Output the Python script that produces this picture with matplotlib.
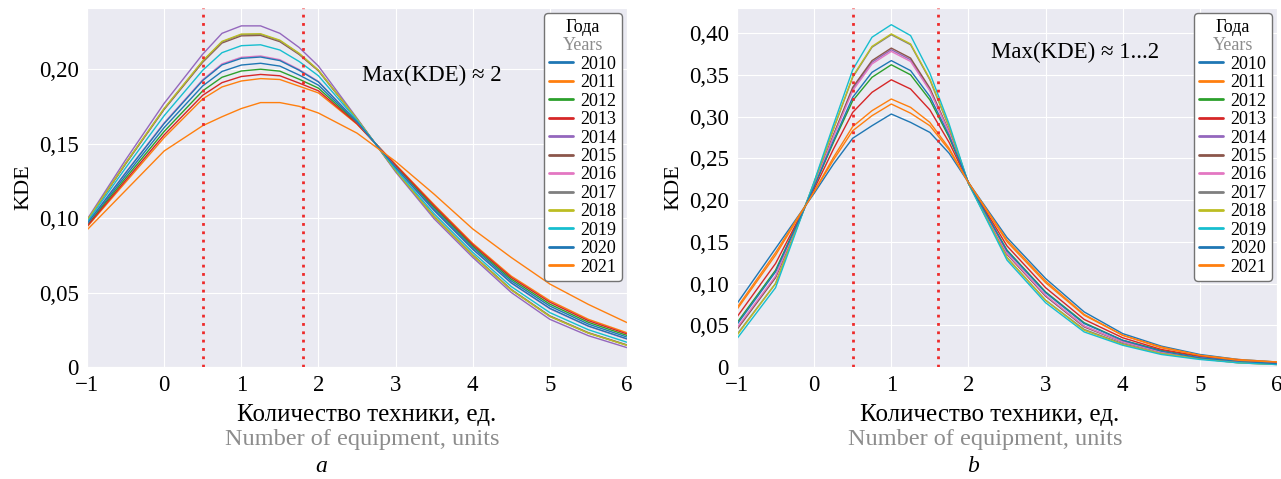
import matplotlib
matplotlib.use("Agg")
import matplotlib.pyplot as plt
from matplotlib.offsetbox import TextArea
import seaborn as sns

# x grids of the two panels
x_a = [-1, -0.5, 0, 0.5, 0.75, 1, 1.25, 1.5, 1.75, 2, 2.5, 3, 3.5, 4, 4.5, 5, 5.5, 6]
x_b = [-1, -0.5, 0, 0.25, 0.5, 0.75, 1, 1.25, 1.5, 1.75, 2, 2.5, 3, 3.5, 4, 4.5, 5, 5.5, 6]

years = ["2010", "2011", "2012", "2013", "2014", "2015",
         "2016", "2017", "2018", "2019", "2020", "2021"]

# panel a
a_2010 = [0.0955, 0.1284, 0.1607, 0.1887, 0.1984, 0.2027, 0.2039, 0.2020, 0.1960, 0.1892, 0.1642, 0.1345, 0.1062, 0.0803, 0.0578, 0.0409, 0.0288, 0.0201]
a_2011 = [0.0940, 0.1240, 0.1540, 0.1800, 0.1880, 0.1920, 0.1936, 0.1930, 0.1885, 0.1840, 0.1630, 0.1360, 0.1090, 0.0830, 0.0610, 0.0445, 0.0320, 0.0230]
a_2012 = [0.0949, 0.1267, 0.1581, 0.1854, 0.1945, 0.1987, 0.1999, 0.1986, 0.1932, 0.1872, 0.1637, 0.1351, 0.1073, 0.0813, 0.0590, 0.0422, 0.0300, 0.0212]
a_2013 = [0.0944, 0.1252, 0.1558, 0.1824, 0.1909, 0.1950, 0.1964, 0.1955, 0.1906, 0.1854, 0.1633, 0.1356, 0.1082, 0.0822, 0.0601, 0.0435, 0.0311, 0.0222]
a_2014 = [0.0990, 0.1390, 0.1770, 0.2100, 0.2240, 0.2290, 0.2290, 0.2240, 0.2145, 0.2020, 0.1670, 0.1310, 0.0995, 0.0736, 0.0500, 0.0320, 0.0210, 0.0130]
a_2015 = [0.0981, 0.1363, 0.1729, 0.2046, 0.2175, 0.2223, 0.2226, 0.2184, 0.2098, 0.1988, 0.1663, 0.1319, 0.1012, 0.0753, 0.0520, 0.0343, 0.0230, 0.0148]
a_2016 = [0.0962, 0.1305, 0.1639, 0.1929, 0.2035, 0.2079, 0.2088, 0.2063, 0.1997, 0.1917, 0.1647, 0.1339, 0.1049, 0.0790, 0.0563, 0.0391, 0.0273, 0.0187]
a_2017 = [0.0982, 0.1366, 0.1733, 0.2052, 0.2182, 0.2231, 0.2233, 0.2190, 0.2103, 0.1991, 0.1664, 0.1318, 0.1010, 0.0751, 0.0518, 0.0340, 0.0228, 0.0146]
a_2018 = [0.0983, 0.1368, 0.1736, 0.2055, 0.2186, 0.2235, 0.2237, 0.2194, 0.2106, 0.1993, 0.1664, 0.1318, 0.1009, 0.0750, 0.0517, 0.0339, 0.0227, 0.0145]
a_2019 = [0.0972, 0.1336, 0.1687, 0.1992, 0.2110, 0.2157, 0.2163, 0.2128, 0.2051, 0.1955, 0.1656, 0.1328, 0.1029, 0.0770, 0.0540, 0.0365, 0.0250, 0.0166]
a_2020 = [0.0961, 0.1302, 0.1634, 0.1923, 0.2028, 0.2072, 0.2081, 0.2057, 0.1992, 0.1914, 0.1646, 0.1340, 0.1051, 0.0791, 0.0565, 0.0394, 0.0275, 0.0189]
a_2021 = [0.0920, 0.1185, 0.1450, 0.1620, 0.1680, 0.1735, 0.1775, 0.1775, 0.1750, 0.1705, 0.1570, 0.1380, 0.1160, 0.0927, 0.0735, 0.0557, 0.0420, 0.0298]

# panel b
b_2010 = [0.076, 0.142, 0.208, 0.243, 0.274, 0.289, 0.303, 0.293, 0.281, 0.256, 0.221, 0.155, 0.106, 0.066, 0.040, 0.025, 0.015, 0.009, 0.006]
b_2011 = [0.071, 0.137, 0.210, 0.248, 0.283, 0.301, 0.315, 0.304, 0.289, 0.260, 0.221, 0.152, 0.103, 0.063, 0.038, 0.024, 0.014, 0.009, 0.006]
b_2012 = [0.053, 0.116, 0.216, 0.269, 0.319, 0.347, 0.362, 0.350, 0.320, 0.275, 0.221, 0.140, 0.090, 0.053, 0.032, 0.020, 0.012, 0.007, 0.004]
b_2013 = [0.060, 0.124, 0.213, 0.261, 0.305, 0.329, 0.344, 0.333, 0.308, 0.269, 0.221, 0.145, 0.095, 0.057, 0.035, 0.021, 0.013, 0.008, 0.005]
b_2014 = [0.046, 0.108, 0.218, 0.277, 0.333, 0.365, 0.380, 0.368, 0.332, 0.281, 0.220, 0.136, 0.085, 0.049, 0.030, 0.018, 0.011, 0.006, 0.004]
b_2015 = [0.045, 0.107, 0.218, 0.278, 0.335, 0.367, 0.382, 0.370, 0.334, 0.282, 0.220, 0.135, 0.085, 0.048, 0.030, 0.018, 0.011, 0.006, 0.004]
b_2016 = [0.047, 0.109, 0.218, 0.276, 0.331, 0.363, 0.378, 0.366, 0.331, 0.281, 0.220, 0.136, 0.086, 0.049, 0.030, 0.018, 0.011, 0.006, 0.004]
b_2017 = [0.039, 0.100, 0.221, 0.285, 0.347, 0.383, 0.398, 0.386, 0.344, 0.287, 0.220, 0.131, 0.080, 0.045, 0.028, 0.016, 0.010, 0.005, 0.003]
b_2018 = [0.038, 0.100, 0.221, 0.285, 0.348, 0.384, 0.399, 0.387, 0.345, 0.288, 0.220, 0.131, 0.080, 0.044, 0.027, 0.016, 0.010, 0.005, 0.003]
b_2019 = [0.034, 0.095, 0.222, 0.290, 0.356, 0.395, 0.410, 0.397, 0.352, 0.291, 0.220, 0.128, 0.077, 0.042, 0.026, 0.015, 0.009, 0.005, 0.003]
b_2020 = [0.051, 0.114, 0.216, 0.271, 0.323, 0.353, 0.367, 0.355, 0.324, 0.277, 0.221, 0.139, 0.089, 0.052, 0.032, 0.019, 0.011, 0.007, 0.004]
b_2021 = [0.069, 0.134, 0.210, 0.251, 0.288, 0.307, 0.321, 0.311, 0.293, 0.262, 0.221, 0.150, 0.101, 0.062, 0.038, 0.023, 0.014, 0.008, 0.006]

kde_a = [a_2010, a_2011, a_2012, a_2013, a_2014, a_2015, a_2016, a_2017, a_2018, a_2019, a_2020, a_2021]
kde_b = [b_2010, b_2011, b_2012, b_2013, b_2014, b_2015, b_2016, b_2017, b_2018, b_2019, b_2020, b_2021]

# границы интервала (красные пунктиры)
bounds_a = [0.5, 1.8]
bounds_b = [0.5, 1.6]

yticks_a = [0, 0.05, 0.10, 0.15, 0.20]
yticks_b = [0, 0.05, 0.10, 0.15, 0.20, 0.25, 0.30, 0.35, 0.40]
xticks = [-1, 0, 1, 2, 3, 4, 5, 6]

colors = ["#1f77b4", "#ff7f0e", "#2ca02c", "#d62728", "#9467bd", "#8c564b",
          "#e377c2", "#7f7f7f", "#bcbd22", "#17becf", "#1f77b4", "#ff7f0e"]

GRAY = "#8c8c8c"


def ytick_label(v):
    if v == 0:
        return "0"
    return f"{v:.2f}".replace(".", ",")


def draw_panel(fig, ax, xs, series, bounds, yticks, ymax, note, note_xy):
    for vals, year, c in zip(series, years, colors):
        ax.plot(xs, vals, color=c, lw=1.0, label=year)
    for b in bounds:
        ax.axvline(b, color="#ee2a2a", ls=(0, (1, 2)), lw=2.0, zorder=5)

    ax.set_xlim(-1, 6)
    ax.set_ylim(0, ymax)
    ax.set_xticks(xticks)
    ax.set_xticklabels(["\u22121" if t < 0 else str(t) for t in xticks])
    ax.set_yticks(yticks)
    ax.set_yticklabels([ytick_label(v) for v in yticks])
    ax.tick_params(labelsize=16.5, length=0, pad=6, labelcolor="black")
    ax.set_ylabel("KDE", fontsize=16, labelpad=4, color="black")

    ax.text(note_xy[0], note_xy[1], note, transform=ax.transAxes,
            fontsize=16.5, ha="center", va="center", color="black")

    leg = ax.legend(loc="upper right", fontsize=13, title="Года",
                    title_fontsize=13, handlelength=1.3, handletextpad=0.4,
                    labelspacing=0.08, borderpad=0.3, borderaxespad=0.3,
                    fancybox=True, framealpha=1.0, facecolor="white",
                    edgecolor="0.45", labelcolor="black")
    leg.get_title().set_color("black")
    leg.get_frame().set_linewidth(1.0)
    for line in leg.get_lines():
        line.set_linewidth(2.0)

    # серая строка "Years" под заголовком легенды
    years_box = TextArea("Years", textprops=dict(color=GRAY, fontsize=13,
                                                 family=["Liberation Serif", "DejaVu Serif"]))
    years_box.set_figure(fig)
    leg._legend_box._children.insert(1, years_box)
    return leg


def main():
    sns.set_style("darkgrid")
    plt.rcParams["font.family"] = ["Liberation Serif", "DejaVu Serif"]
    plt.rcParams["text.color"] = "black"

    fig = plt.figure(figsize=(12.81, 4.79), dpi=100)
    W, H = 1281, 479
    ax_a = fig.add_axes([87 / W, 1 - 367 / H, 540 / W, 359 / H])
    ax_b = fig.add_axes([737 / W, 1 - 367 / H, 540 / W, 359 / H])

    draw_panel(fig, ax_a, x_a, kde_a, bounds_a, yticks_a, 0.241,
               "Max(KDE) \u2248 2", (0.639, 0.813))
    draw_panel(fig, ax_b, x_b, kde_b, bounds_b, yticks_b, 0.430,
               "Max(KDE) \u2248 1...2", (0.626, 0.877))

    # подписи осей X (рус / англ) и буквы панелей
    for cx in [367, 990]:
        fig.text(cx / W, 1 - 415 / H, "Количество техники, ед.", fontsize=18,
                 ha="center", va="center", color="black")
        fig.text((cx - 5) / W, 1 - 440 / H, "Number of equipment, units",
                 fontsize=17.5, ha="center", va="center", color=GRAY)
    fig.text(321 / W, 1 - 467 / H, "a", fontsize=17, style="italic",
             ha="center", va="center", color="black")
    fig.text(973 / W, 1 - 467 / H, "b", fontsize=17, style="italic",
             ha="center", va="center", color="black")

    fig.savefig("out.png", dpi=100)


if __name__ == "__main__":
    main()
